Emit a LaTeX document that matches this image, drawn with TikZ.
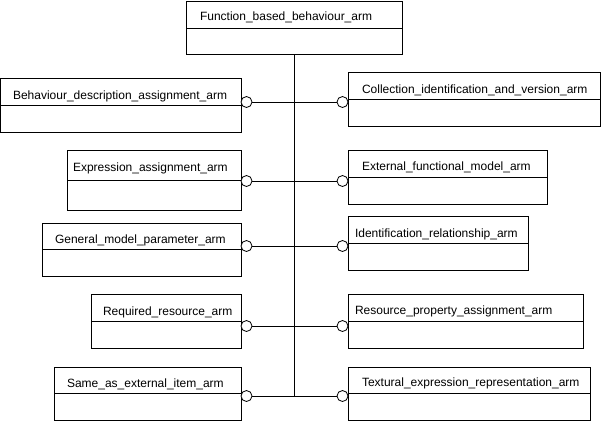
\documentclass[tikz,border=0pt]{standalone}
\usepackage{fontspec}
\setmainfont{Liberation Sans}
\begin{document}
\begin{tikzpicture}[x=1pt, y=-1pt, line width=0.8pt, font=\fontsize{12}{14}\selectfont,
    every node/.style={outer sep=0pt, inner sep=0pt},
    armbox/.style={draw, anchor=north west},
    armname/.style={anchor=base west},
    port/.style={draw, circle, fill=white, minimum size=11pt}]
    \useasboundingbox (0,0) rectangle (601,421);
    % top entity
    \node[armbox, minimum width=216pt, minimum height=53pt] (fb) at (186,1) {};
    \draw (fb.west |- 0,28) -- (fb.east |- 0,28);
    \node[armname] (fb-name) at (200,20.5) {Function\_based\_behaviour\_arm};
    % left column
    \node[armbox, minimum width=240.5pt, minimum height=54pt] (bda) at (0.5,78) {};
    \draw (bda.west |- 0,105) -- (bda.east |- 0,105);
    \node[armname] (bda-name) at (13,99) {Behaviour\_description\_assignment\_arm};
    \node[armbox, minimum width=174pt, minimum height=60pt] (ea) at (67,150) {};
    \draw (ea.west |- 0,180) -- (ea.east |- 0,180);
    \node[armname] (ea-name) at (73,171) {Expression\_assignment\_arm};
    \node[armbox, minimum width=199pt, minimum height=53pt] (gmp) at (42,223) {};
    \draw (gmp.west |- 0,249) -- (gmp.east |- 0,249);
    \node[armname] (gmp-name) at (55,243) {General\_model\_parameter\_arm};
    \node[armbox, minimum width=150pt, minimum height=54pt] (rr) at (91,294) {};
    \draw (rr.west |- 0,321) -- (rr.east |- 0,321);
    \node[armname] (rr-name) at (103,315) {Required\_resource\_arm};
    \node[armbox, minimum width=187pt, minimum height=53pt] (sae) at (54,367) {};
    \draw (sae.west |- 0,393) -- (sae.east |- 0,393);
    \node[armname] (sae-name) at (67,387) {Same\_as\_external\_item\_arm};
    % right column
    \node[armbox, minimum width=252pt, minimum height=54pt] (civ) at (348,72) {};
    \draw (civ.west |- 0,99) -- (civ.east |- 0,99);
    \node[armname] (civ-name) at (362,93) {Collection\_identification\_and\_version\_arm};
    \node[armbox, minimum width=199pt, minimum height=54pt] (efm) at (348,150) {};
    \draw (efm.west |- 0,177) -- (efm.east |- 0,177);
    \node[armname] (efm-name) at (362,170.5) {External\_functional\_model\_arm};
    \node[armbox, minimum width=180pt, minimum height=54pt] (ir) at (348,216) {};
    \draw (ir.west |- 0,243) -- (ir.east |- 0,243);
    \node[armname] (ir-name) at (355,237) {Identification\_relationship\_arm};
    \node[armbox, minimum width=235pt, minimum height=54pt] (rpa) at (348,294) {};
    \draw (rpa.west |- 0,321) -- (rpa.east |- 0,321);
    \node[armname] (rpa-name) at (355,314.5) {Resource\_property\_assignment\_arm};
    \node[armbox, minimum width=242pt, minimum height=53pt] (ter) at (348,367) {};
    \draw (ter.west |- 0,393) -- (ter.east |- 0,393);
    \node[armname] (ter-name) at (362,386) {Textural\_expression\_representation\_arm};
    % ports
    \node[port] (bda-p) at (246.5,102) {};
    \node[port] (civ-p) at (342.5,102) {};
    \node[port] (ea-p) at (246.5,181) {};
    \node[port] (efm-p) at (342.5,181) {};
    \node[port] (gmp-p) at (246.5,246) {};
    \node[port] (ir-p) at (342.5,246) {};
    \node[port] (rr-p) at (246.5,326) {};
    \node[port] (rpa-p) at (342.5,326) {};
    \node[port] (sae-p) at (246.5,396) {};
    \node[port] (ter-p) at (342.5,396) {};
    % connectors
    \draw (fb.south) -- (fb.south |- sae-p);
    \draw (bda-p) -- (civ-p);
    \draw (ea-p) -- (efm-p);
    \draw (gmp-p) -- (ir-p);
    \draw (rr-p) -- (rpa-p);
    \draw (sae-p) -- (ter-p);
\end{tikzpicture}
\end{document}
